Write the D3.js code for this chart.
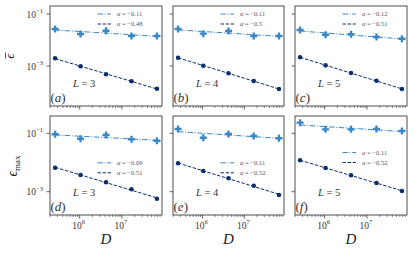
<!DOCTYPE html>
<html><head><meta charset="utf-8">
<script src="https://cdn.jsdelivr.net/npm/d3@7"></script>
<style>body{margin:0;background:#fff}svg{display:block}</style>
</head><body>
<script>
// ---- data ----
const dims = [262144, 1048576, 4194304, 16777216, 67108864]; // D = 2^18 .. 2^26
const panelLabels = ["a", "b", "c", "d", "e", "f"];
const sizesL = [3, 4, 5, 3, 4, 5];
const lightA = [0.0265, 0.0170, 0.0228, 0.0143, 0.0143];
const lightB = [0.0265, 0.0175, 0.0222, 0.0143, 0.0143];
const lightC = [0.0243, 0.0160, 0.0166, 0.0130, 0.0112];
const lightD = [0.0925, 0.0653, 0.0875, 0.0624, 0.0558];
const lightE = [0.140, 0.0706, 0.0946, 0.0809, 0.0675];
const lightF = [0.231, 0.137, 0.137, 0.140, 0.120];
const darkA = [0.00198, 0.000973, 0.000480, 0.000258, 0.000134];
const darkB = [0.00208, 0.00103, 0.000524, 0.000265, 0.000130];
const darkC = [0.00216, 0.00106, 0.000538, 0.000272, 0.000130];
const darkD = [0.00664, 0.00373, 0.00210, 0.00121, 0.000575];
const darkE = [0.00940, 0.00512, 0.00288, 0.00160, 0.000771];
const darkF = [0.0119, 0.00649, 0.00365, 0.00199, 0.00106];
const alphaLight = ["−0.11", "−0.11", "−0.12", "−0.09", "−0.11", "−0.11"];
const alphaDark = ["−0.48", "−0.5", "−0.51", "−0.51", "−0.52", "−0.52"];
const yTickVals = [1e-1, 1e-3];
const yTickExp = ["−1", "−3"];
const xTickVals = [1e6, 1e7];
const xTickExp = ["6", "7"];

const lights = [lightA, lightB, lightC, lightD, lightE, lightF];
const darks = [darkA, darkB, darkC, darkD, darkE, darkF];

// ---- layout ----
const W = 415, H = 254;
const cols = [[50, 162], [173, 284], [295, 407]];
const rows = [[6, 106], [116, 215]];
const yDomains = [[Math.pow(10, -4.538), Math.pow(10, -0.692)], [Math.pow(10, -3.798), Math.pow(10, -0.4075)]];
const xDomain = [Math.pow(10, 5.2976), Math.pow(10, 7.947)];
const cLight = "#3a87c6", cDark = "#0c2e6c", axisC = "#3a3a3a", textC = "#333";
const serif = "'Liberation Serif', 'DejaVu Serif', serif";

const svg = d3.select("body").append("svg").attr("width", W).attr("height", H)
  .style("font-family", serif);

function fitLine(xs, ys) {
  const lx = xs.map(Math.log10), ly = ys.map(Math.log10);
  const mx = d3.mean(lx), my = d3.mean(ly);
  const s = d3.sum(lx.map((v, i) => (v - mx) * (ly[i] - my))) / d3.sum(lx.map(v => (v - mx) ** 2));
  const b = my - s * mx;
  return [lx[0], lx[lx.length - 1]].map(v => [Math.pow(10, v), Math.pow(10, b + s * v)]);
}

for (let p = 0; p < 6; p++) {
  const r = Math.floor(p / 3), c = p % 3;
  const [x0, x1] = cols[c], [y0, y1] = rows[r];
  const x = d3.scaleLog().domain(xDomain).range([x0, x1]);
  const y = d3.scaleLog().domain(yDomains[r]).range([y1, y0]);
  const g = svg.append("g");

  // x axis ticks (major + minor)
  const minor = [];
  for (let e = 5; e <= 7; e++) for (let k = 2; k <= 9; k++) {
    const v = k * Math.pow(10, e);
    if (v >= xDomain[0] && v <= xDomain[1]) minor.push(v);
  }
  const xAx = g.append("g").attr("transform", `translate(0,${y1})`);
  xAx.selectAll("line.mn").data(minor).join("line")
    .attr("x1", d => x(d)).attr("x2", d => x(d)).attr("y1", 0).attr("y2", 2)
    .attr("stroke", axisC).attr("stroke-width", 0.6);
  xAx.selectAll("line.mj").data(xTickVals).join("line")
    .attr("x1", d => x(d)).attr("x2", d => x(d)).attr("y1", 0).attr("y2", 3.5)
    .attr("stroke", axisC).attr("stroke-width", 0.8);
  if (r === 1) {
    xTickVals.forEach((v, i) => {
      const t = xAx.append("text").attr("x", x(v) - 1).attr("y", 13.5)
        .attr("text-anchor", "middle").attr("fill", textC).attr("font-size", 9.5);
      t.append("tspan").text("10");
      t.append("tspan").attr("font-size", 6.5).attr("dy", -4.5).text(xTickExp[i]);
    });
    svg.append("text").attr("x", (x0 + x1) / 2).attr("y", 244)
      .attr("text-anchor", "middle").attr("font-size", 15).attr("font-style", "italic")
      .attr("fill", "#222").text("D");
  }
  // y ticks
  yTickVals.forEach((v, i) => {
    g.append("line").attr("x1", x0 - 3.5).attr("x2", x0).attr("y1", y(v)).attr("y2", y(v))
      .attr("stroke", axisC).attr("stroke-width", 0.8);
    if (c === 0) {
      const t = g.append("text").attr("x", x0 - 7).attr("y", y(v) + 3.5)
        .attr("text-anchor", "end").attr("fill", textC).attr("font-size", 9.5);
      t.append("tspan").text("10");
      t.append("tspan").attr("font-size", 6.5).attr("dy", -4.5).text(yTickExp[i]);
    }
  });

  // fit lines
  const line = d3.line().x(d => x(d[0])).y(d => y(d[1]));
  g.append("path").attr("d", line(fitLine(dims, lights[p]))).attr("fill", "none")
    .attr("stroke", cLight).attr("stroke-width", 1).attr("stroke-dasharray", "5.5,1.6,1,1.6");
  g.append("path").attr("d", line(fitLine(dims, darks[p]))).attr("fill", "none")
    .attr("stroke", cDark).attr("stroke-width", 1).attr("stroke-dasharray", "3.5,1.6");

  // markers
  const cross = d3.symbol().type(d3.symbolCross).size(28);
  g.selectAll("path.lm").data(lights[p]).join("path")
    .attr("transform", (d, i) => `translate(${x(dims[i])},${y(d)})`)
    .attr("d", cross).attr("fill", cLight);
  g.selectAll("circle.dm").data(darks[p]).join("circle")
    .attr("cx", (d, i) => x(dims[i])).attr("cy", d => y(d)).attr("r", 2.3)
    .attr("fill", cDark);

  // frame
  g.append("rect").attr("x", x0).attr("y", y0).attr("width", x1 - x0).attr("height", y1 - y0)
    .attr("fill", "none").attr("stroke", axisC).attr("stroke-width", 0.9);

  // legend
  const ly0 = r === 0 ? y0 + 8 : (p === 5 ? y0 + 36.5 : y0 + 46.8);
  const entries = [[cLight, "5.5,1.6,1,1.6", alphaLight[p]], [cDark, "3.5,1.6", alphaDark[p]]];
  entries.forEach((en, i) => {
    const yy = ly0 + i * 10;
    g.append("line").attr("x1", x0 + 47.5).attr("x2", x0 + 61).attr("y1", yy).attr("y2", yy)
      .attr("stroke", en[0]).attr("stroke-width", 1).attr("stroke-dasharray", en[1]);
    const t = g.append("text").attr("x", x0 + 67).attr("y", yy + 2.2)
      .attr("font-size", 6.5).attr("fill", "#555");
    t.append("tspan").attr("font-style", "italic").text("α");
    t.append("tspan").text(" = " + en[2]);
  });

  // L label
  const Lt = g.append("text").attr("x", x0 + 23).attr("y", y1 - 19.5)
    .attr("font-size", 10.5).attr("fill", textC);
  Lt.append("tspan").attr("font-style", "italic").text("L");
  Lt.append("tspan").text(" = " + sizesL[p]);

  // panel label
  const pl = g.append("text").attr("x", x0 + 0.5).attr("y", y1 - 4.5)
    .attr("font-size", 13).attr("fill", textC);
  pl.append("tspan").text("(");
  pl.append("tspan").attr("font-style", "italic").text(panelLabels[p]);
  pl.append("tspan").text(")");
}

// y axis titles (rotated)
const ebar = svg.append("g").attr("transform", "translate(14,56) rotate(-90)");
ebar.append("text").attr("x", 0).attr("y", 0).attr("text-anchor", "middle")
  .attr("font-size", 13).attr("font-style", "italic").attr("fill", "#222").text("ϵ");
ebar.append("line").attr("x1", -2.5).attr("x2", 3.5).attr("y1", -8.5).attr("y2", -8.5)
  .attr("stroke", "#222").attr("stroke-width", 0.8);
const yl = svg.append("text").attr("transform", "translate(17,166) rotate(-90)")
  .attr("text-anchor", "middle").attr("fill", "#222").attr("font-size", 14);
yl.append("tspan").attr("font-style", "italic").text("ϵ");
yl.append("tspan").attr("font-size", 9).attr("dy", 2.5).text("max");
</script>
</body></html>
